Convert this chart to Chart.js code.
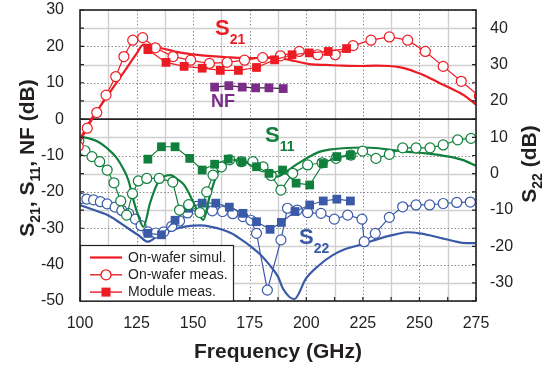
<!DOCTYPE html>
<html>
<head>
<meta charset="utf-8">
<script src="https://cdn.jsdelivr.net/npm/chart.js@4.4.1/dist/chart.umd.min.js"></script>
<style>
  html, body { margin: 0; padding: 0; background: #fff; }
  #wrap { width: 550px; height: 371px; }
</style>
</head>
<body>
<div id="wrap"><canvas id="myChart" width="550" height="371"></canvas></div>
<script>
// DATOS (frecuencia en GHz, valores en dB)
const xTicks = [100, 125, 150, 175, 200, 225, 250, 275];
const leftTicks = [-50, -40, -30, -20, -10, 0, 10, 20, 30];
const rightTicks = [-30, -20, -10, 0, 10, 20, 30, 40];

// S21
const s21SimFreq = [100, 105, 110, 115, 120, 125, 128, 130, 134.5, 140, 143.3, 150, 158, 165, 172.8, 181.6, 186.6, 195.4, 201.3, 208.7, 216, 223.4, 230.8, 236.7, 241, 245.5, 249, 252.9, 256.5, 260.3, 264, 267.6, 271, 275];
const s21Sim = [-5.5, 0, 4.5, 9, 13.5, 18, 20.5, 20.4, 19.7, 18.9, 18.4, 17.8, 17.3, 17, 16.8, 16.8, 16.8, 15.9, 15.1, 14.9, 14.7, 14.6, 14.7, 14.6, 14.3, 13.6, 12.8, 11.8, 10.7, 9.5, 8.4, 7.3, 6, 4];
const s21MeasFreq = [99.2, 103.2, 107.4, 111.5, 115.8, 119.4, 123.3, 127.7, 133.3, 141.1, 148.9, 157.2, 165, 172.7, 180.7, 188.6, 196.9, 205, 212.8, 220.7, 228.6, 236.7, 244.8, 252.6, 260.5, 268.5, 276.5];
const s21Meas = [-7.5, -2.5, 1.8, 6.6, 11.7, 17.2, 21.7, 22.4, 19.6, 17.2, 16.2, 15.3, 15.6, 16.2, 16.9, 17.4, 18.6, 17.7, 17.7, 20.2, 21.7, 22.6, 21.7, 18.6, 14.5, 10.4, 6.3];
const s21ModFreq = [130, 138, 146, 154, 162, 170, 178, 186, 193.7, 201.3, 209.7, 217.8];
const s21Mod = [19.1, 15.6, 14.5, 14, 13.4, 13.4, 14.2, 16.3, 17.7, 18.2, 18.6, 19.4];

// NF
const nfFreq = [159.5, 165.8, 171.7, 177.6, 183.5, 189.8];
const nf = [8.8, 9.2, 8.8, 8.6, 8.6, 8.4];

// S11
const s11SimFreq = [100, 104, 108, 112, 116, 119, 121.5, 123.5, 126, 128, 131, 134, 137, 140, 143, 146, 150, 152.5, 154.5, 157, 160, 163, 167, 172, 178, 183, 187, 191, 195.4, 200, 205.7, 210, 216, 225, 232, 238, 245, 253, 263, 269, 275];
const s11Sim = [-4.8, -5.3, -6.2, -8, -10.5, -13.5, -17, -22, -27, -29.6, -23, -18, -15.8, -15.4, -16.5, -18.1, -22.7, -26, -27.7, -22, -16, -12.5, -11.2, -11.5, -13, -14.5, -15.8, -14.5, -12.6, -10.8, -9, -8.4, -8, -7.8, -8, -8.5, -9, -9.4, -10.3, -11.2, -12.8];
const s11MeasFreq = [99.5, 102.2, 105.3, 108.7, 112, 115, 118, 120.6, 123.2, 125.8, 129.5, 135, 141, 144, 148, 153, 156, 158.8, 162.5, 166.1, 171.3, 176.4, 180.9, 184.5, 188.8, 194, 200.6, 207, 213.1, 219.7, 224.9, 230.8, 236.7, 242.6, 248.5, 254.7, 260.5, 266.9, 272.8];
const s11Meas = [-6, -8.7, -10.3, -11.7, -14, -17.5, -22.5, -26.4, -20.5, -17, -16.3, -16.3, -17.3, -25, -23.5, -25.7, -20, -15.4, -13.1, -11.2, -11.7, -11.7, -13.1, -15.5, -19.5, -14.9, -12.6, -12, -10.8, -9.9, -8.8, -10.8, -9.7, -7.9, -7.9, -7.9, -7.1, -5.7, -5.3];
const s11ModFreq = [130, 136, 142, 148.5, 154, 159.5, 165.5, 171.5, 178, 183.5, 189.5, 195.5, 201.5, 207.5, 213.5, 219.5];
const s11Mod = [-11, -7.6, -7.6, -10.8, -14, -12.4, -11, -11.7, -13.1, -14.9, -14, -17.6, -18.1, -12.2, -10.3, -9.9];

// S22 (eje derecho)
const s22SimFreq = [100, 104, 108, 112.4, 116, 121.2, 126, 130, 134, 137.4, 142, 147.7, 153, 158, 163, 166.9, 171, 175.7, 180, 183.1, 187.5, 189.6, 194.7, 199.9, 205.8, 211.7, 217, 223.4, 229, 235.2, 240, 244.8, 250, 255, 260.2, 265, 269, 275];
const s22Sim = [-8.6, -9.5, -10.4, -11.4, -12.8, -15, -17, -18.7, -17.3, -16.4, -15.2, -14.4, -14.2, -14.6, -15.4, -16.4, -18, -20.1, -22.4, -24.6, -28.3, -31.5, -34.5, -28.8, -25.1, -22.4, -20.8, -19.6, -18.5, -17.3, -16.6, -16.1, -16.4, -17, -17.8, -18.5, -19, -19.1];
const s22MeasFreq = [100.5, 103, 106, 109, 112, 115.5, 118.5, 121.5, 124.5, 127, 130, 133.5, 137, 140.5, 144, 147.5, 151.5, 155, 158.5, 163, 167.5, 172, 175.5, 178, 182.8, 188.8, 191.7, 196, 200.6, 206.5, 212.4, 218.3, 224.6, 225.6, 230.5, 236.7, 242.6, 248.5, 254.5, 260.5, 266.5, 272.5];
const s22Meas = [-6.8, -7, -7.2, -7.7, -8.3, -9.2, -10.1, -11, -12.5, -14.3, -16, -16.3, -16, -14.5, -13, -10.8, -9, -9.5, -10.2, -10.4, -11, -11.8, -12.8, -16.4, -32, -18.2, -9.5, -10, -10.7, -10.9, -12.5, -11.4, -12.5, -18.7, -16.4, -12, -9.1, -8.6, -8.6, -8.2, -7.9, -7.8];
const s22ModFreq = [130, 136, 142, 148, 154, 160, 166, 172, 178, 184, 189, 195, 201.5, 207.5, 213.5, 219.5];
const s22Mod = [-16.4, -16.8, -12.8, -9.5, -8.1, -8.1, -9.2, -10.9, -13.2, -15.3, -13.4, -10.4, -8.6, -7.5, -7, -7.5];

// COLORES Y FUENTE
const RED = "#ed1c24", GREEN = "#11803c", BLUE = "#3a5aa8", PURPLE = "#7b2b88";
const FONT = "'Liberation Sans', Arial, Helvetica, sans-serif";
Chart.defaults.font.family = FONT;

const pts = (fs, vs) => fs.map((f, i) => ({ x: f, y: vs[i] }));

function simul(data, color, axis) {
  return { data, borderColor: color, borderWidth: 2.2, pointRadius: 0, yAxisID: axis, cubicInterpolationMode: "monotone" };
}
function meas(data, color, axis) {
  return { data, borderColor: color, borderWidth: 1.2, pointStyle: "circle", pointRadius: 5,
    pointBackgroundColor: "#fff", pointBorderColor: color, pointBorderWidth: 1.2, yAxisID: axis };
}
function module(data, color, axis, lineColor) {
  return { data, borderColor: lineColor || color, borderWidth: 1.2, pointStyle: "rect", pointRadius: 6.2,
    pointBackgroundColor: color, pointBorderColor: color, pointBorderWidth: 0, yAxisID: axis };
}

// TEXTO CON SUBINDICES
function rich(ctx, parts, x, y, rot, center) {
  ctx.save();
  ctx.translate(x, y);
  ctx.rotate(rot);
  ctx.textBaseline = "alphabetic";
  ctx.textAlign = "left";
  let w = 0;
  parts.forEach(p => { ctx.font = "bold " + p[1] + "px " + FONT; w += ctx.measureText(p[0]).width; });
  let cx = center ? -w / 2 : 0;
  parts.forEach(p => {
    ctx.font = "bold " + p[1] + "px " + FONT;
    ctx.fillText(p[0], cx, p[2] || 0);
    cx += ctx.measureText(p[0]).width;
  });
  ctx.restore();
}

const decor = {
  id: "decor",
  beforeDatasetsDraw(chart) {
    const { ctx, chartArea: a, scales: { x, y } } = chart;
    ctx.save();
    // rejilla
    for (let f = 100; f <= 275; f += 12.5) {
      const px = Math.round(x.getPixelForValue(f)) + 0.5;
      const major = (f - 100) % 25 === 0;
      ctx.beginPath();
      ctx.strokeStyle = major ? "#8a8a8a" : "#cfcfcf";
      ctx.lineWidth = major ? 1 : 1.4;
      ctx.setLineDash(major ? [1.5, 2] : []);
      ctx.moveTo(px, a.top); ctx.lineTo(px, a.bottom); ctx.stroke();
    }
    for (let v = -50; v <= 30; v += 5) {
      const py = Math.round(y.getPixelForValue(v)) + 0.5;
      const major = v % 10 === 0;
      ctx.beginPath();
      ctx.strokeStyle = major ? "#8a8a8a" : "#cfcfcf";
      ctx.lineWidth = major ? 1 : 1.4;
      ctx.setLineDash(major ? [1.5, 2] : []);
      ctx.moveTo(a.left, py); ctx.lineTo(a.right, py); ctx.stroke();
    }
    ctx.setLineDash([]);
    // linea de cero
    const y0 = y.getPixelForValue(0);
    ctx.beginPath();
    ctx.strokeStyle = "#222";
    ctx.lineWidth = 1.6;
    ctx.moveTo(a.left, y0); ctx.lineTo(a.right, y0); ctx.stroke();
    ctx.restore();
  },
  afterDatasetsDraw(chart) {
    const { ctx, chartArea: a, scales: { x, y, y2 } } = chart;
    ctx.save();
    // marco y marcas hacia dentro
    ctx.strokeStyle = "#222";
    ctx.lineWidth = 1.6;
    ctx.strokeRect(a.left, a.top, a.right - a.left, a.bottom - a.top);
    ctx.lineWidth = 1.2;
    ctx.beginPath();
    for (let f = 100; f <= 275; f += 12.5) {
      const px = x.getPixelForValue(f);
      ctx.moveTo(px, a.bottom); ctx.lineTo(px, a.bottom - 4);
    }
    for (let v = -50; v <= 30; v += 5) {
      const py = y.getPixelForValue(v);
      ctx.moveTo(a.left, py); ctx.lineTo(a.left + 4, py);
    }
    for (let v = -35; v <= 45; v += 5) {
      const py = y2.getPixelForValue(v);
      ctx.moveTo(a.right, py); ctx.lineTo(a.right - 4, py);
    }
    ctx.stroke();

    // etiquetas de las curvas
    ctx.fillStyle = RED;
    rich(ctx, [["S", 22], ["21", 14, 9]], x.getPixelForValue(159.7), y.getPixelForValue(23), 0);
    ctx.fillStyle = PURPLE;
    rich(ctx, [["NF", 18]], x.getPixelForValue(157.9), y.getPixelForValue(3.2), 0);
    ctx.fillStyle = GREEN;
    rich(ctx, [["S", 22], ["11", 14, 9]], x.getPixelForValue(181.8), y.getPixelForValue(-6.3), 0);
    ctx.fillStyle = BLUE;
    rich(ctx, [["S", 22], ["22", 14, 9]], x.getPixelForValue(196.8), y.getPixelForValue(-34.2), 0);

    // leyenda
    const lx = a.left, ly = 245, lw = 153, lh = a.bottom - ly;
    ctx.fillStyle = "#fff";
    ctx.fillRect(lx, ly, lw, lh);
    ctx.strokeStyle = "#222";
    ctx.lineWidth = 1.2;
    ctx.strokeRect(lx + 0.5, ly + 0.5, lw, lh - 0.5);
    const rows = [["On-wafer simul.", "line"], ["On-wafer meas.", "circle"], ["Module meas.", "rect"]];
    rows.forEach((r, i) => {
      const ry = ly + 12.5 + i * 17.3;
      ctx.strokeStyle = RED;
      ctx.lineWidth = r[1] === "line" ? 2.2 : 1.4;
      ctx.beginPath(); ctx.moveTo(lx + 10, ry); ctx.lineTo(lx + 42, ry); ctx.stroke();
      if (r[1] === "circle") {
        ctx.beginPath(); ctx.arc(lx + 26, ry, 5, 0, Math.PI * 2);
        ctx.fillStyle = "#fff"; ctx.fill(); ctx.lineWidth = 1.3; ctx.stroke();
      } else if (r[1] === "rect") {
        ctx.fillStyle = RED; ctx.fillRect(lx + 21.5, ry - 4.5, 9, 9);
      }
      ctx.fillStyle = "#231f20";
      ctx.font = "14px " + FONT;
      ctx.textBaseline = "middle";
      ctx.fillText(r[0], lx + 48, ry + 0.5);
    });

    // titulos de ejes
    ctx.fillStyle = "#231f20";
    rich(ctx, [["Frequency (GHz)", 21]], 278, 358, 0, true);
    rich(ctx, [["S", 21], ["21", 14, 6], [", S", 21], ["11", 14, 6], [", NF (dB)", 21]], 34, 158, -Math.PI / 2, true);
    rich(ctx, [["S", 21], ["22", 14, 6], [" (dB)", 21]], 536, 164, -Math.PI / 2, true);
    ctx.restore();
  }
};

const datasets = [
  module(pts(nfFreq, nf), PURPLE, "y", "#3b2a3c"),
  module(pts(s21ModFreq, s21Mod), RED, "y"),
  meas(pts(s21MeasFreq, s21Meas), RED, "y"),
  simul(pts(s21SimFreq, s21Sim), RED, "y"),
  module(pts(s11ModFreq, s11Mod), GREEN, "y"),
  meas(pts(s11MeasFreq, s11Meas), GREEN, "y"),
  simul(pts(s11SimFreq, s11Sim), GREEN, "y"),
  module(pts(s22ModFreq, s22Mod), BLUE, "y2"),
  meas(pts(s22MeasFreq, s22Meas), BLUE, "y2"),
  simul(pts(s22SimFreq, s22Sim), BLUE, "y2")
];

// quitar el relleno automatico de las escalas para fijar el area del grafico
function fixV(w) {
  return s => { s.width = w; s.paddingTop = 0; s.paddingBottom = 0; };
}

const tickFont = { size: 16 };
const config = {
  type: "line",
  data: { datasets },
  options: {
    responsive: false,
    animation: false,
    devicePixelRatio: 1,
    layout: { padding: { top: 10, left: 0, right: 0, bottom: 0 } },
    plugins: { legend: { display: false }, tooltip: { enabled: false } },
    scales: {
      x: {
        type: "linear", min: 100, max: 275,
        afterBuildTicks: s => { s.ticks = xTicks.map(v => ({ value: v })); },
        afterFit: s => { s.height = 70; s.paddingLeft = 0; s.paddingRight = 0; },
        grid: { display: false }, border: { display: false },
        ticks: { font: tickFont, color: "#231f20", padding: 5, maxRotation: 0 }
      },
      y: {
        position: "left", min: -50, max: 30,
        afterBuildTicks: s => { s.ticks = leftTicks.map(v => ({ value: v })); },
        afterFit: fixV(80),
        grid: { display: false }, border: { display: false },
        ticks: { font: tickFont, color: "#231f20", padding: 8 }
      },
      y2: {
        position: "right", min: -35, max: 45,
        afterBuildTicks: s => { s.ticks = rightTicks.map(v => ({ value: v })); },
        afterFit: fixV(74),
        grid: { display: false }, border: { display: false },
        ticks: { font: tickFont, color: "#231f20", padding: 6 }
      }
    }
  },
  plugins: [decor]
};

new Chart(document.getElementById("myChart"), config);
</script>
</body>
</html>
